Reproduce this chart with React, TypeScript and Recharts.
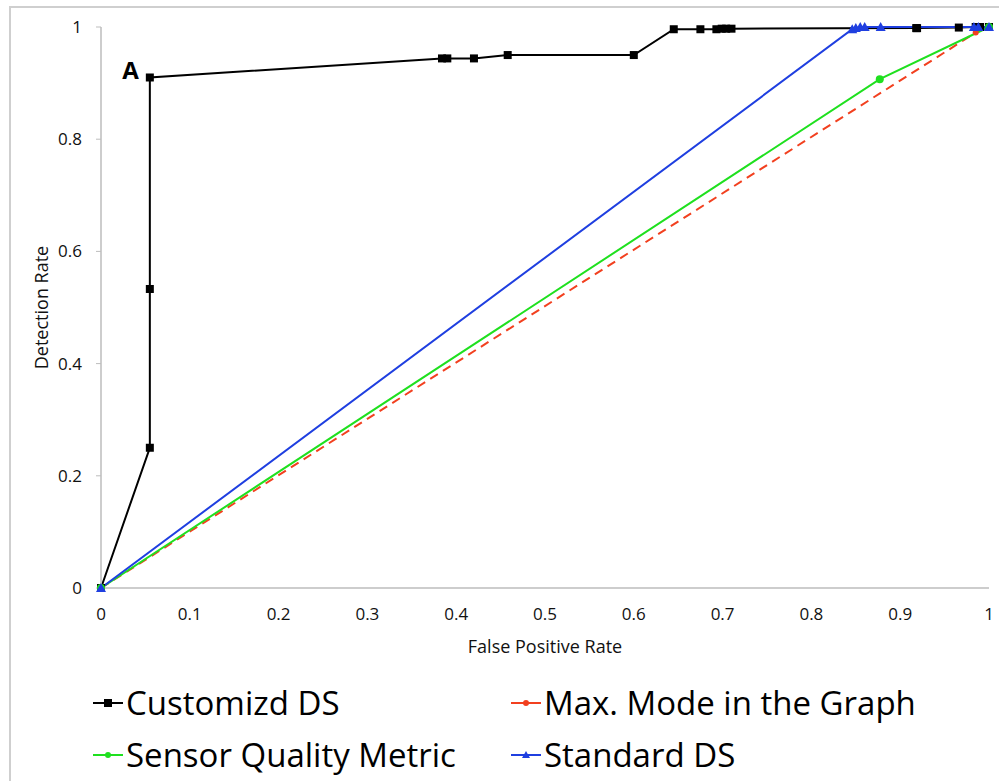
import { LineChart, Line, XAxis, YAxis, ReferenceDot, Label } from 'recharts';

// false positive rate / detection rate
const customFpr = [0, 0.055, 0.055, 0.055, 0.384, 0.39, 0.42, 0.458, 0.6, 0.645, 0.675, 0.693, 0.699, 0.704, 0.71, 0.918, 0.919, 0.966, 0.985, 0.99, 1];
const customDr = [0, 0.25, 0.533, 0.91, 0.944, 0.944, 0.944, 0.95, 0.95, 0.996, 0.996, 0.996, 0.997, 0.997, 0.997, 0.998, 0.998, 0.999, 1, 1, 1];

const maxModeFpr = [0, 0.985, 1];
const maxModeDr = [0, 0.99, 1];

const sensorFpr = [0, 0.877, 1];
const sensorDr = [0, 0.907, 1];

const standardFpr = [0, 0.846, 0.85, 0.855, 0.86, 0.878, 0.983, 0.988, 1];
const standardDr = [0, 0.996, 0.998, 1, 1, 1, 1, 1, 1];

const xTicks = [0, 0.1, 0.2, 0.3, 0.4, 0.5, 0.6, 0.7, 0.8, 0.9, 1];
const yTicks = [0, 0.2, 0.4, 0.6, 0.8, 1];

const toPoints = (xs: number[], ys: number[]) => xs.map((x, i) => ({ x, y: ys[i] }));

const FONT = '"Open Sans", sans-serif';
const AXIS_GRAY = '#bdbdbd';

const squareDot = (p: any) => (
  <rect key={`sq-${p.index}`} x={p.cx - 4} y={p.cy - 4} width={8} height={8} fill="#000" />
);
const triangleDot = (p: any) => (
  <path
    key={`tr-${p.index}`}
    d={`M${p.cx},${p.cy - 5} L${p.cx + 5},${p.cy + 4} L${p.cx - 5},${p.cy + 4} Z`}
    fill="#1f3fe0"
  />
);

const series = [
  { name: 'Customizd DS', color: '#000000', data: toPoints(customFpr, customDr), marker: 'square', dash: undefined },
  { name: 'Max. Mode in the Graph', color: '#f2401f', data: toPoints(maxModeFpr, maxModeDr), marker: 'circle', dash: '9 6' },
  { name: 'Sensor Quality Metric', color: '#1fe01f', data: toPoints(sensorFpr, sensorDr), marker: 'circle', dash: undefined },
  { name: 'Standard DS', color: '#1f3fe0', data: toPoints(standardFpr, standardDr), marker: 'triangle', dash: undefined },
];

function LegendMark({ color, marker }: { color: string; marker: string }) {
  return (
    <svg width={30} height={12} style={{ marginRight: 3 }}>
      <line x1={0} y1={6} x2={30} y2={6} stroke={color} strokeWidth={2} />
      {marker === 'square' && <rect x={11} y={2} width={8} height={8} fill={color} />}
      {marker === 'circle' && <circle cx={15} cy={6} r={3} fill={color} />}
      {marker === 'triangle' && <path d="M15,2 L19,9 L11,9 Z" fill={color} />}
    </svg>
  );
}

export default function App() {
  return (
    <div style={{ position: 'absolute', left: 0, top: 0, width: 999, height: 781, overflow: 'hidden', background: '#fff', fontFamily: FONT }}>
      <div style={{ position: 'absolute', left: 9, top: 6, width: 1100, height: 900, border: '2px solid #cfcfcf' }} />
      <div style={{ position: 'absolute', left: 0, top: 0 }}>
        <LineChart width={999} height={665} margin={{ top: 27, right: 10, bottom: 0, left: 0 }}>
          <XAxis
            type="number"
            dataKey="x"
            domain={[0, 1]}
            ticks={xTicks}
            height={77}
            tickLine={false}
            tickSize={5}
            tickMargin={15}
            axisLine={{ stroke: AXIS_GRAY, strokeWidth: 1.5 }}
            tick={{ fill: '#111', fontSize: 17, fontFamily: FONT }}
          >
            <Label value="False Positive Rate" position="insideBottom" offset={12} style={{ fill: '#111', fontSize: 18, fontFamily: FONT }} />
          </XAxis>
          <YAxis
            type="number"
            dataKey="y"
            domain={[0, 1]}
            ticks={yTicks}
            width={101}
            tickSize={5}
            tickMargin={14}
            tickLine={{ stroke: AXIS_GRAY }}
            axisLine={{ stroke: AXIS_GRAY, strokeWidth: 1.5 }}
            tick={{ fill: '#111', fontSize: 17, fontFamily: FONT }}
          >
            <Label value="Detection Rate" position="center" angle={-90} dx={-9} style={{ fill: '#111', fontSize: 18, fontFamily: FONT, textAnchor: 'middle' }} />
          </YAxis>
          {series.map((s) => (
            <Line
              key={s.name}
              data={s.data}
              dataKey="y"
              name={s.name}
              type="linear"
              stroke={s.color}
              strokeWidth={2}
              strokeDasharray={s.dash}
              isAnimationActive={false}
              dot={
                s.marker === 'square'
                  ? squareDot
                  : s.marker === 'triangle'
                  ? triangleDot
                  : { r: s.name === 'Sensor Quality Metric' ? 4 : 3, fill: s.color, stroke: s.color, strokeWidth: 0 }
              }
              activeDot={false}
            />
          ))}
          <ReferenceDot x={customFpr[3]} y={customDr[3]} r={0} ifOverflow="visible">
            <Label value="A" position="left" offset={11} dy={-7} style={{ fill: '#000', fontSize: 24, fontWeight: 700, fontFamily: FONT }} />
          </ReferenceDot>
        </LineChart>
      </div>
      <div
        style={{
          position: 'absolute',
          left: 93,
          top: 679,
          display: 'grid',
          gridTemplateColumns: '418px auto',
          rowGap: 4,
          fontSize: 33,
          lineHeight: '48px',
          color: '#000',
        }}
      >
        {series.map((s) => (
          <div key={s.name} style={{ display: 'flex', alignItems: 'center', whiteSpace: 'nowrap' }}>
            <LegendMark color={s.color} marker={s.marker} />
            <span>{s.name}</span>
          </div>
        ))}
      </div>
    </div>
  );
}
